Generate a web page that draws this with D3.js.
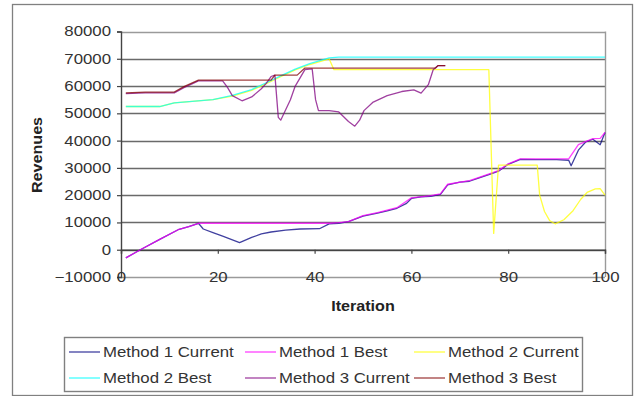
<!DOCTYPE html>
<html>
<head>
<meta charset="utf-8">
<script src="https://cdn.jsdelivr.net/npm/d3@7"></script>
<style>
  body { margin: 0; background: #fff; }
  text { font-family: "Liberation Sans", Arial, sans-serif; }
</style>
</head>
<body>
<svg id="chart" width="644" height="396"></svg>
<script>
// Axis ticks
const iterationTicks = [0, 20, 40, 60, 80, 100];
const revenueTicks = [-10000, 0, 10000, 20000, 30000, 40000, 50000, 60000, 70000, 80000];

// Series: [iteration, revenue]
const method1Current = [
  [1,-3000],[4,0],[8,3800],[12,7500],[14,8500],[16,9700],[17,7600],[19,6300],[21,5000],
  [24.5,2600],[27,4500],[29,5800],[31,6500],[34,7200],[37,7600],[41,7700],[43,9500],
  [45,9700],[47,10300],[50,12300],[53,13400],[55,14200],[57,15200],[59,17000],[60,18800],
  [62,19400],[64,19600],[66,20300],[67.5,23800],[70,24800],[72,25100],[74,26300],[76,27500],
  [78,28800],[80,31300],[82.5,33100],[86,33000],[90,33000],[92.5,32800],[93,30800],
  [94.5,36500],[96,39500],[97.5,40500],[99,38500],[100,43000]
];
const method1Best = [
  [1,-3000],[4,0],[8,3800],[12,7500],[14,8500],[16,9700],[43,9700],[45,9900],[47,10300],
  [50,12500],[53,13600],[57,15400],[60,19000],[64,19800],[66,20500],[67.5,24000],[72,25300],
  [74,26500],[78,29000],[80,31500],[82.5,33300],[92.5,33300],[94.5,38500],[97.5,40700],
  [99,40800],[100,43000]
];
const method2Current = [
  [1,52500],[8,52500],[11,53800],[19,55000],[23,56300],[27,58400],[30,60900],[33,63400],
  [36,65900],[39,67900],[43,70000],[44,66000],[60,66000],[76,66000],[77,6000],[78,31000],
  [86,31000],[86.5,20000],[87.5,14000],[88.6,10600],[89.7,9500],[91.5,11000],[93.4,14300],
  [95,18500],[96.3,21000],[98,22300],[99,22400],[100,20000]
];
const method2Best = [
  [1,52500],[8,52500],[11,53800],[19,55000],[23,56600],[27,58700],[30,61200],[33,63700],
  [36,66200],[39,68200],[43,70300],[45,70600],[100,70600]
];
const method3Current = [
  [1,57200],[5,57500],[11,57500],[13,59400],[16,61900],[21,61900],[22,59500],[23,56500],
  [25,54600],[27,56000],[29,59000],[30,61000],[31,63500],[31.8,64000],[32.5,48500],[33,47500],
  [35,55000],[36,60000],[37,63000],[38,66000],[39.5,66300],[40.2,55000],[40.8,51000],[43,51000],
  [45,50500],[47,47000],[48.3,45300],[49.3,47500],[50.2,51000],[52,54000],[55,56500],[58,58000],
  [60.5,58600],[62,57400],[63.5,60500],[64.5,66000],[65.5,67500],[67,67500]
];
const method3Best = [
  [1,57500],[5,57800],[11,57800],[13,59800],[16,62200],[31,62200],[31.8,64000],[36.4,64000],
  [38,66600],[65,66600],[65.5,67500],[67,67500]
];

const seriesNames = ["Method 1 Current", "Method 1 Best", "Method 2 Current",
                     "Method 2 Best", "Method 3 Current", "Method 3 Best"];
const seriesData = [method1Current, method1Best, method2Current, method2Best, method3Current, method3Best];
const seriesColors = ["#000080", "#ff00ff", "#ffff00", "#00ffff", "#800080", "#800000"];

const svg = d3.select("#chart");
const x = d3.scaleLinear().domain([0, 100]).range([121, 605]);
const y = d3.scaleLinear().domain([-10000, 80000]).range([277, 31.5]);

// widen glyphs horizontally
function stretch(sel, k) {
  sel.each(function () {
    const w = this.getComputedTextLength();
    d3.select(this).attr("textLength", w * k).attr("lengthAdjust", "spacingAndGlyphs");
  });
}

// chart frame
svg.append("rect").attr("x", 12.5).attr("y", 4.5).attr("width", 620).attr("height", 391)
  .attr("fill", "#fff").attr("stroke", "#808080").attr("stroke-width", 1.3);

// gridlines
svg.append("g").selectAll("line").data(revenueTicks).join("line")
  .attr("x1", x(0)).attr("x2", x(100))
  .attr("y1", d => Math.round(y(d)) + 0.5).attr("y2", d => Math.round(y(d)) + 0.5)
  .attr("stroke", d => (d === 80000 || d === -10000) ? "#9a9a9a" : "#6a6a6a")
  .attr("stroke-width", 1.4);

// plot area right edge
svg.append("line").attr("x1", x(100) + 0.5).attr("x2", x(100) + 0.5)
  .attr("y1", y(80000)).attr("y2", y(-10000)).attr("stroke", "#9a9a9a").attr("stroke-width", 1.4);

// y axis
const yAxis = svg.append("g").attr("transform", `translate(${x(0)},0)`)
  .call(d3.axisLeft(y).tickValues(revenueTicks).tickSize(4).tickPadding(6).tickFormat(d3.format("d")));
yAxis.select(".domain").attr("stroke", "#444").attr("stroke-width", 1.4);
yAxis.selectAll(".tick line").attr("stroke", "#444").attr("stroke-width", 1.2);
yAxis.selectAll("text").attr("font-size", 14).attr("fill", "#333")
  .attr("font-family", "'Liberation Sans', Arial, sans-serif").call(stretch, 1.2);

// x axis on the zero line, labels along the bottom edge
const xAxis = svg.append("g").attr("transform", `translate(0,${y(0)})`)
  .call(d3.axisBottom(x).tickValues(iterationTicks).tickSize(4).tickPadding(18).tickFormat(d3.format("d")));
xAxis.select(".domain").attr("stroke", "#444").attr("stroke-width", 1.4);
xAxis.selectAll(".tick line").attr("stroke", "#444").attr("stroke-width", 1.2);
xAxis.selectAll("text").attr("font-size", 14).attr("fill", "#333")
  .attr("font-family", "'Liberation Sans', Arial, sans-serif").call(stretch, 1.2);

// axis titles
svg.append("text").attr("transform", `translate(42,155) rotate(-90)`)
  .attr("text-anchor", "middle").attr("font-size", 14).attr("font-weight", "bold").attr("fill", "#222")
  .text("Revenues").call(stretch, 1.15);
svg.append("text").attr("x", 363).attr("y", 311)
  .attr("text-anchor", "middle").attr("font-size", 14).attr("font-weight", "bold").attr("fill", "#222")
  .text("Iteration").call(stretch, 1.15);

// series lines
const line = d3.line().x(d => x(d[0])).y(d => y(d[1]));
svg.append("g").selectAll("path").data(seriesData).join("path")
  .attr("d", line)
  .attr("fill", "none")
  .attr("stroke", (d, i) => seriesColors[i])
  .attr("stroke-width", 1.3)
  .attr("stroke-opacity", 0.75)
  .attr("stroke-linejoin", "round");

// legend
const legend = svg.append("g");
legend.append("rect").attr("x", 64.5).attr("y", 337.5).attr("width", 518).attr("height", 54)
  .attr("fill", "#fff").attr("stroke", "#808080").attr("stroke-width", 1.4);
const colX = [69, 245, 414];
const rowY = [352, 378];
const items = legend.selectAll("g.item").data(seriesNames).join("g").attr("class", "item")
  .attr("transform", (d, i) => `translate(${colX[i % 3]},${rowY[Math.floor(i / 3)]})`);
items.append("line").attr("x1", 0).attr("x2", 31).attr("y1", 0).attr("y2", 0)
  .attr("stroke", (d, i) => seriesColors[i]).attr("stroke-width", 1.3).attr("stroke-opacity", 0.75);
items.append("text").attr("x", 34).attr("y", 5).attr("font-size", 14).attr("fill", "#333")
  .text(d => d).call(stretch, 1.2);
</script>
</body>
</html>
